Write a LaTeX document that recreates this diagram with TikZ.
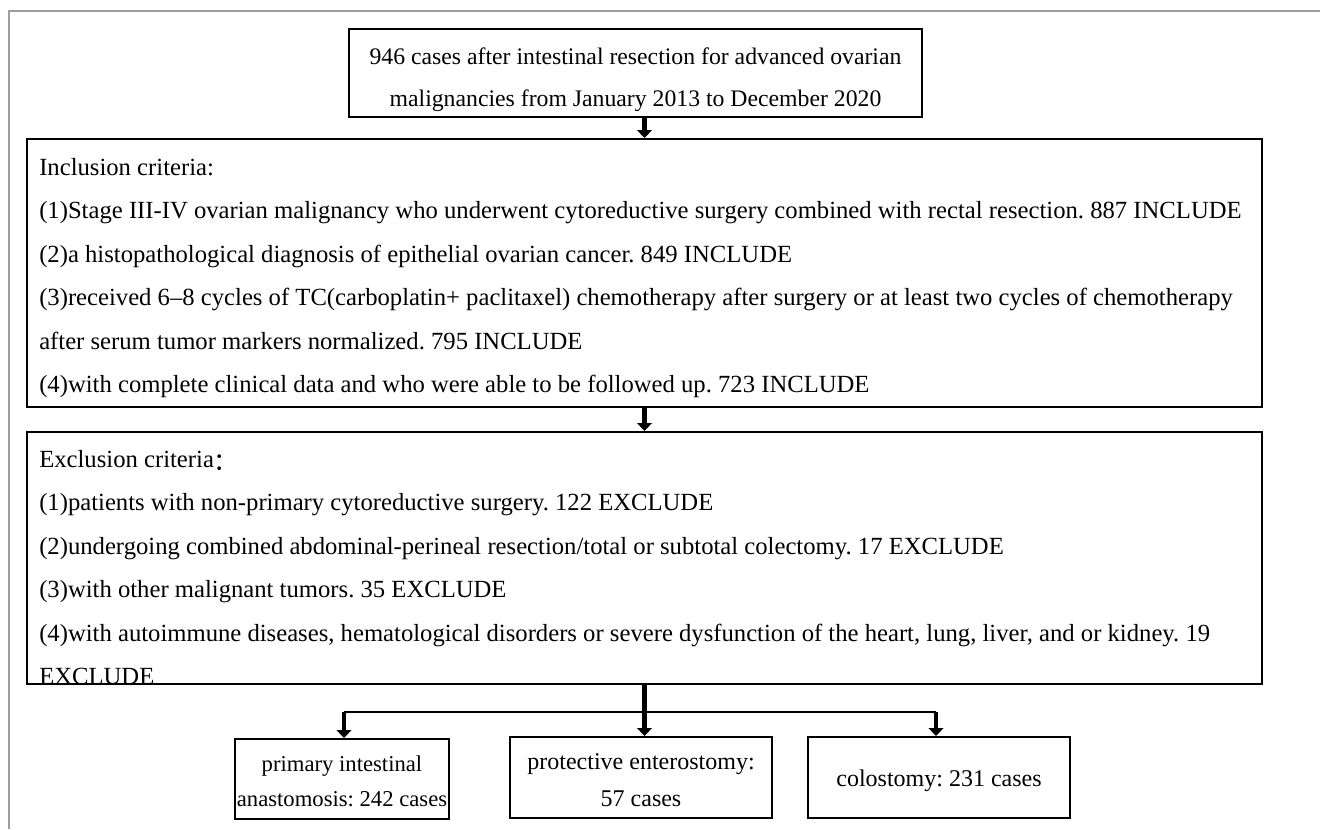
\documentclass[tikz,border=0pt]{standalone}
\usepackage{fontspec}
\setmainfont{Liberation Serif}
\newfontfamily\cjk{Noto Sans CJK SC}
\usetikzlibrary{arrows.meta}
\begin{document}
\frenchspacing
\begin{tikzpicture}[x=0.75pt,y=-0.75pt,
  box/.style={draw=black,line width=1.5pt,inner sep=0pt},
  txt/.style={anchor=base west,inner sep=0pt,font=\fontsize{18.5}{22}\selectfont},
  ttl/.style={anchor=base,inner sep=0pt,font=\fontsize{17.8}{22}\selectfont},
  btx/.style={anchor=base,inner sep=0pt,font=\fontsize{18}{22}\selectfont},
  arr/.style={line width=3.4pt,-{Triangle[width=11pt,length=6pt]}},
  thin/.style={line width=1.2pt}]
\useasboundingbox (0,0) rectangle (1320,829);
\draw[line width=1.2pt,black!38] (1320,11) -- (9,11) -- (9,829);
% boxes
\node[box,minimum width=429.75pt,minimum height=66pt] (top) at (635.5,73) {};
\node[ttl] (t1) at (635.5,64) {946 cases after intestinal resection for advanced ovarian};
\node[ttl] (t2) at (635.5,106) {malignancies from January 2013 to December 2020};
\node[box,minimum width=926.25pt,minimum height=201pt] (inc) at (644.5,273) {};
\node[txt] (i0) at (39,175) {Inclusion criteria:};
\node[txt] (i1) at (39,218.5) {(1)Stage III-IV ovarian malignancy who underwent cytoreductive surgery combined with rectal resection. 887 INCLUDE};
\node[txt] (i2) at (39,262) {(2)a histopathological diagnosis of epithelial ovarian cancer. 849 INCLUDE};
\node[txt] (i3) at (39,305.5) {(3)received 6–8 cycles of TC(carboplatin+ paclitaxel) chemotherapy after surgery or at least two cycles of chemotherapy};
\node[txt] (i4) at (39,349) {after serum tumor markers normalized. 795 INCLUDE};
\node[txt] (i5) at (39,392.5) {(4)with complete clinical data and who were able to be followed up. 723 INCLUDE};
\node[box,minimum width=926.25pt,minimum height=189pt] (exc) at (644.5,558) {};
\node[txt] (e0) at (39,467) {Exclusion criteria\raisebox{-2.5pt}{\cjk ：}};
\node[txt] (e1) at (39,510.5) {(1)patients with non-primary cytoreductive surgery. 122 EXCLUDE};
\node[txt] (e2) at (39,554) {(2)undergoing combined abdominal-perineal resection/total or subtotal colectomy. 17 EXCLUDE};
\node[txt] (e3) at (39,597.5) {(3)with other malignant tumors. 35 EXCLUDE};
\node[txt] (e4) at (39,641) {(4)with autoimmune diseases, hematological disorders or severe dysfunction of the heart, lung, liver, and or kidney. 19};
\node[txt] (e5) at (39,684) {EXCLUDE};
\node[box,minimum width=160.5pt,minimum height=60pt] (b1) at (342,779) {};
\node[btx,font=\fontsize{17}{20}\selectfont] (b1a) at (342,771) {primary intestinal};
\node[btx,font=\fontsize{17}{20}\selectfont] (b1b) at (342,806) {anastomosis: 242 cases};
\node[box,minimum width=196.5pt,minimum height=60.75pt] (b2) at (641,777.5) {};
\node[btx] (b2a) at (641,769) {protective enterostomy:};
\node[btx] (b2b) at (641,806) {57 cases};
\node[box,minimum width=196.5pt,minimum height=60.75pt] (b3) at (939,777.5) {};
\node[btx] (b3a) at (939,786) {colostomy: 231 cases};
% connectors
\draw[arr] (top.south -| inc.north) -- (inc.north);
\draw[arr] (inc.south) -- (exc.north);
\coordinate (hl) at (344,712);
\coordinate (hr) at (936,712);
\draw[thin] (hl) -- (hr);
\draw[arr,line width=4pt] (exc.south) -- (exc.south |- b2.north);
\draw[arr] (hl) -- (hl |- b1.north);
\draw[arr] (hr) -- (hr |- b3.north);
\end{tikzpicture}
\end{document}
